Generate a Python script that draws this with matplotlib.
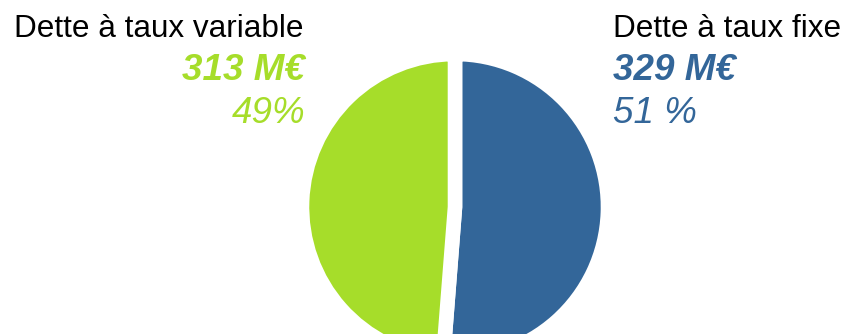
import matplotlib.pyplot as plt

plt.rcParams['font.family'] = ['Liberation Sans', 'DejaVu Sans']

# encours de dette par type de taux (M€)
labels = ['Dette à taux fixe', 'Dette à taux variable']
montants = [329, 313]
parts = ['51 %', '49%']
couleurs = ['#336699', '#A6DD2A']

fig = plt.figure(figsize=(8.47, 3.34), dpi=100)
ax = fig.add_axes([0, 0, 1, 1])

ax.pie(montants, colors=couleurs, startangle=90, counterclock=False,
       center=(455, 127), radius=153, frame=True,
       wedgeprops=dict(edgecolor='white', linewidth=10.5))
ax.set_xlim(0, 847)
ax.set_ylim(0, 334)
ax.set_aspect('equal')
ax.axis('off')

# taux fixe, à droite
ax.text(613, 297, labels[0], fontsize=22.7, color='black', ha='left', va='baseline')
ax.text(613, 254, f'{montants[0]} M€', fontsize=26.5, color=couleurs[0],
        fontweight='bold', fontstyle='italic', ha='left', va='baseline')
ax.text(613, 211, parts[0], fontsize=26.5, color=couleurs[0],
        fontstyle='italic', ha='left', va='baseline')

# taux variable, à gauche
ax.text(303, 297, labels[1], fontsize=22.7, color='black', ha='right', va='baseline')
ax.text(305, 254, f'{montants[1]} M€', fontsize=26.5, color=couleurs[1],
        fontweight='bold', fontstyle='italic', ha='right', va='baseline')
ax.text(305, 211, parts[1], fontsize=26.5, color=couleurs[1],
        fontstyle='italic', ha='right', va='baseline')

fig.savefig('out.png', dpi=100)
